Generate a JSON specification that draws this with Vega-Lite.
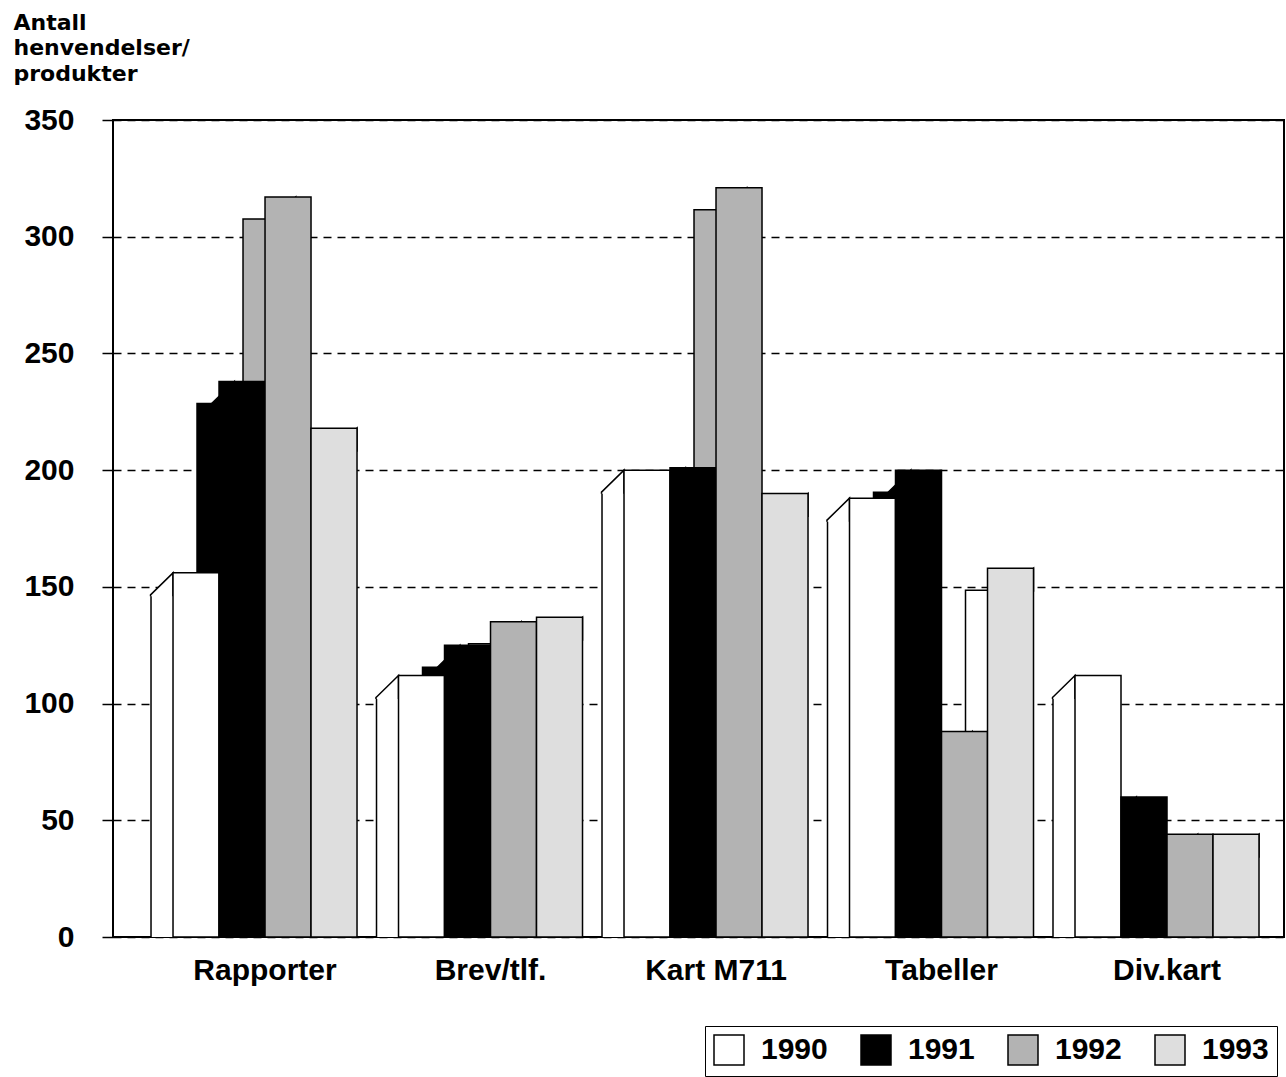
{
  "$schema": "https://vega.github.io/schema/vega-lite/v6.json",
  "width": 1171,
  "height": 817,
  "autosize": {"type": "none"},
  "padding": {"left": 113, "top": 120, "right": 2, "bottom": 140},
  "background": "white",
  "config": {
    "view": {"stroke": "black", "strokeWidth": 2},
    "font": "Liberation Sans"
  },
  "data": {
    "values": [
      {"kategori": "Rapporter", "year": "1990", "antall": 156},
      {"kategori": "Rapporter", "year": "1991", "antall": 238},
      {"kategori": "Rapporter", "year": "1992", "antall": 317},
      {"kategori": "Rapporter", "year": "1993", "antall": 218},
      {"kategori": "Brev/tlf.", "year": "1990", "antall": 112},
      {"kategori": "Brev/tlf.", "year": "1991", "antall": 125},
      {"kategori": "Brev/tlf.", "year": "1992", "antall": 135},
      {"kategori": "Brev/tlf.", "year": "1993", "antall": 137},
      {"kategori": "Kart M711", "year": "1990", "antall": 200},
      {"kategori": "Kart M711", "year": "1991", "antall": 201},
      {"kategori": "Kart M711", "year": "1992", "antall": 321},
      {"kategori": "Kart M711", "year": "1993", "antall": 190},
      {"kategori": "Tabeller", "year": "1990", "antall": 188},
      {"kategori": "Tabeller", "year": "1991", "antall": 200},
      {"kategori": "Tabeller", "year": "1992", "antall": 88},
      {"kategori": "Tabeller", "year": "1993", "antall": 158},
      {"kategori": "Div.kart", "year": "1990", "antall": 112},
      {"kategori": "Div.kart", "year": "1991", "antall": 60},
      {"kategori": "Div.kart", "year": "1992", "antall": 44},
      {"kategori": "Div.kart", "year": "1993", "antall": 44}
    ]
  },
  "resolve": {"scale": {"xOffset": "independent"}},
  "encoding": {
    "x": {
      "field": "kategori", "type": "nominal", "sort": null,
      "scale": {"paddingInner": 0.184, "paddingOuter": 0.1885, "align": 0.706},
      "axis": {
        "title": null, "labelAngle": 0, "labelFontSize": 30, "labelFontWeight": "bold",
        "labelColor": "black", "labelPadding": 18, "ticks": false, "domain": false
      }
    },
    "y": {
      "field": "antall", "type": "quantitative",
      "scale": {"domain": [0, 350], "nice": false},
      "axis": {
        "values": [0, 50, 100, 150, 200, 250, 300, 350],
        "labelFontSize": 30, "labelFontWeight": "bold", "labelColor": "black",
        "tickColor": "black", "tickSize": 11, "tickWidth": 1.5, "labelPadding": 28,
        "domain": false, "grid": true, "gridColor": "black", "gridDash": [8, 6],
        "gridWidth": 1.3, "gridOpacity": 1,
        "title": ["Antall", "henvendelser/", "produkter"],
        "titleFont": "DejaVu Sans", "titleFontSize": 22, "titleFontWeight": "bold",
        "titleColor": "black", "titleAngle": 0, "titleAlign": "left", "titleBaseline": "top",
        "titleX": -100, "titleY": -108, "titleLineHeight": 25.5
      }
    }
  },
  "layer": [
    {
      "mark": {"type": "bar", "yOffset": 22, "clip": true, "stroke": "black", "strokeWidth": 1.5},
      "encoding": {
        "xOffset": {
          "field": "year", "type": "nominal", "sort": null,
          "scale": {"paddingInner": 0, "paddingOuter": 0, "range": [-22, 162]}
        },
        "fill": {
          "condition": {"test": "datum.year === '1993'", "value": "white"},
          "field": "year", "type": "nominal",
          "scale": {"domain": ["1990", "1991", "1992", "1993"], "range": ["white", "black", "#b3b3b3", "#dedede"]}
        }
      }
    },
    {
      "mark": {"type": "point", "shape": "M -22.5 23.5 L -22.5 22 L 0 0 L 0 23.5", "size": 4, "filled": true, "opacity": 1, "stroke": "black", "strokeWidth": 1.5, "strokeJoin": "miter"},
      "encoding": {
        "xOffset": {
          "field": "year", "type": "nominal", "sort": null,
          "scale": {"paddingInner": 0, "paddingOuter": 0}
        },
        "fill": {
          "condition": {"test": "datum.year === '1993'", "value": "white"},
          "field": "year", "type": "nominal",
          "scale": {"domain": ["1990", "1991", "1992", "1993"], "range": ["white", "black", "#b3b3b3", "#dedede"]}
        }
      }
    },
    {
      "mark": {"type": "bar", "stroke": "black", "strokeWidth": 1.5},
      "encoding": {
        "xOffset": {
          "field": "year", "type": "nominal", "sort": null,
          "scale": {"paddingInner": 0, "paddingOuter": 0}
        },
        "fill": {
          "field": "year", "type": "nominal",
          "scale": {"domain": ["1990", "1991", "1992", "1993"], "range": ["white", "black", "#b3b3b3", "#dedede"]},
          "legend": {
            "title": null, "orient": "none", "legendX": 592, "legendY": 906,
            "direction": "horizontal", "columns": 4, "strokeColor": "black", "padding": 8,
            "symbolType": "square", "symbolSize": 900, "symbolStrokeColor": "black",
            "symbolStrokeWidth": 1.5, "symbolOpacity": 1,
            "labelFontSize": 30, "labelFontWeight": "bold", "labelColor": "black",
            "labelOffset": 16, "columnPadding": 30
          }
        }
      }
    }
  ]
}
